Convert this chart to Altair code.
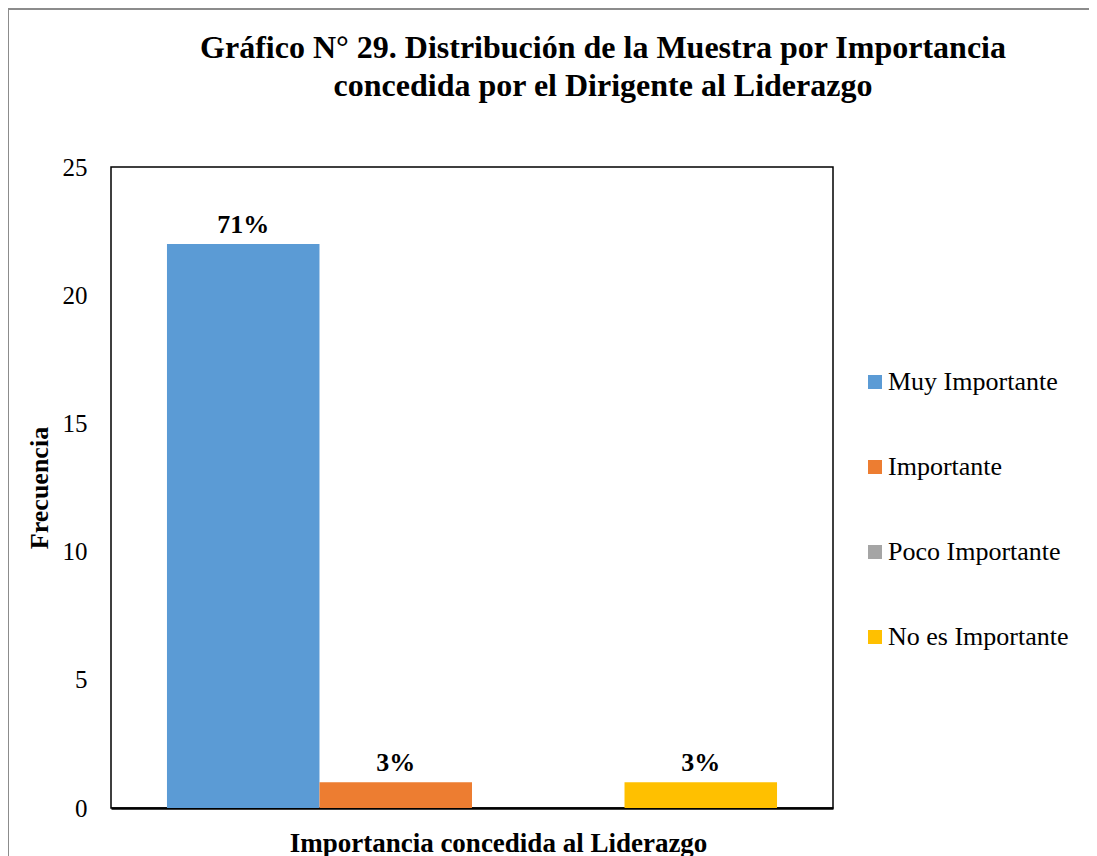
import altair as alt
import pandas as pd

series = ["Muy Importante", "Importante", "Poco Importante", "No es Importante"]
values = [22, 1, 0, 1]
labels = ["71%", "3%", "", "3%"]
colors = ["#5B9BD5", "#ED7D31", "#A5A5A5", "#FFC000"]
y_ticks = [0, 5, 10, 15, 20, 25]

df = pd.DataFrame({"serie": series, "valor": values, "etiqueta": labels})

FONT = "Liberation Serif"

x_enc = alt.X(
    "serie:N",
    sort=series,
    scale=alt.Scale(paddingInner=0, paddingOuter=0.367),
    axis=alt.Axis(
        title="Importancia concedida al Liderazgo",
        labels=False,
        ticks=False,
        domainColor="black",
        domainWidth=2.5,
        titleFont=FONT,
        titleFontSize=27,
        titleFontWeight="bold",
        titleColor="black",
        titlePadding=22,
        titleX=387,
        titleAnchor="middle",
    ),
)
y_enc = alt.Y(
    "valor:Q",
    scale=alt.Scale(domain=[0, 25], nice=False),
    axis=alt.Axis(
        title="Frecuencia",
        values=y_ticks,
        grid=False,
        ticks=False,
        domain=False,
        labelFont=FONT,
        labelFontSize=25,
        labelColor="black",
        labelPadding=24,
        titleFont=FONT,
        titleFontSize=26,
        titleFontWeight="bold",
        titleColor="black",
        titlePadding=10,
    ),
)

bars = alt.Chart(df).mark_bar().encode(
    x=x_enc,
    y=y_enc,
    color=alt.Color(
        "serie:N",
        sort=series,
        scale=alt.Scale(domain=series, range=colors),
        legend=alt.Legend(
            title=None,
            orient="none",
            legendX=751,
            legendY=202,
            symbolType="square",
            symbolSize=196,
            symbolStrokeWidth=0,
            labelFont=FONT,
            labelFontSize=26,
            labelColor="black",
            labelOffset=0,
            labelLimit=400,
            rowPadding=59,
            padding=0,
        ),
    ),
)

text = alt.Chart(df).mark_text(
    font=FONT, fontSize=26, fontWeight="bold", color="black", baseline="bottom", dy=-6
).encode(x=alt.X("serie:N", sort=series), y="valor:Q", text="etiqueta:N")

frame_top = alt.Chart(df).mark_rule(color="#8c8c8c", strokeWidth=2).encode(
    x=alt.value(-103), x2=alt.value(990), y=alt.value(-158)
)
frame_left = alt.Chart(df).mark_rule(color="#8c8c8c", strokeWidth=2).encode(
    x=alt.value(-103), y=alt.value(-158), y2=alt.value(700)
)

chart = (
    alt.layer(bars, text, frame_top, frame_left)
    .properties(
        width=722,
        height=641,
        autosize=alt.AutoSizeParams(type="none"),
        padding={"left": 103, "top": 159, "right": 256, "bottom": 48},
        view=alt.ViewBackground(stroke="black", strokeWidth=1.5),
        title=alt.TitleParams(
            text=[
                "Gráfico N° 29. Distribución de la Muestra por Importancia",
                "concedida por el Dirigente al Liderazgo",
            ],
            font=FONT,
            fontSize=32,
            fontWeight="bold",
            color="black",
            anchor="middle",
            frame="group",
            dx=131,
            lineHeight=38,
            offset=-95,
        ),
    )
    .configure_view(stroke="black", strokeWidth=1.5)
    .configure(background="white")
)

chart.save("out.html", embed_options={"renderer": "svg", "actions": False})
